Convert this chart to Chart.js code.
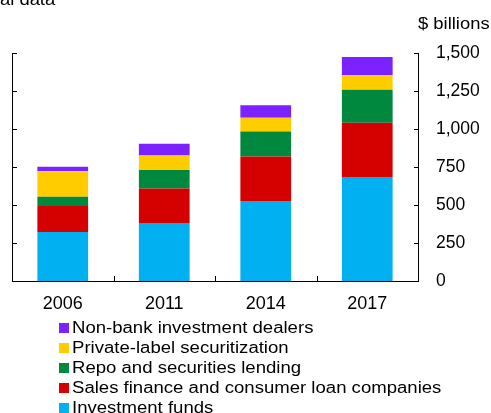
<!DOCTYPE html>
<html><head><meta charset="utf-8">
<script src="https://cdn.jsdelivr.net/npm/chart.js@4.4.1/dist/chart.umd.min.js"></script>
<style>
html,body{margin:0;padding:0;background:#fff;overflow:hidden}
#wrap{position:relative;width:491px;height:413px;overflow:hidden}
#c{position:absolute;left:0;top:0}
.t{position:absolute;font-family:"Liberation Sans",Arial,sans-serif;font-size:16px;line-height:20px;color:#000;white-space:nowrap;transform:scaleX(1.15);transform-origin:0 0}
#legend{position:absolute;left:59px;top:318px}
.li{position:relative;height:20px;line-height:20px;font-family:"Liberation Sans",Arial,sans-serif;font-size:16px;color:#000;white-space:nowrap}
.li span.tx{position:absolute;left:13px;top:0;display:block;transform:scaleX(1.16);transform-origin:0 0}
.sw{position:absolute;left:0;top:5px;width:10px;height:10px}
</style>
</head><body>
<div id="wrap">
<canvas id="c" width="491" height="413"></canvas>
<div class="t" style="left:-43px;top:-10.5px">Annual data</div>
<div class="t" style="left:418px;top:14px">$ billions</div>
<div id="legend"></div>
</div>
<script>
const categories = ['2006', '2011', '2014', '2017'];
const investmentFunds = [323, 382, 527, 685];
const salesFinance = [171, 226, 292, 356];
const repoLending = [61, 123, 165, 217];
const privateLabel = [167, 95, 90, 97];
const nonBankDealers = [30, 77, 83, 119];
const yTicks = [0, 250, 500, 750, 1000, 1250, 1500];

const seriesNames = ['Investment funds', 'Sales finance and consumer loan companies', 'Repo and securities lending', 'Private-label securitization', 'Non-bank investment dealers'];
const seriesValues = [investmentFunds, salesFinance, repoLending, privateLabel, nonBankDealers];
const seriesColors = ['#00B0F0', '#D50000', '#00893E', '#FFCC00', '#7B22FF'];

const datasets = seriesNames.map((n, i) => ({
  label: n, data: seriesValues[i], backgroundColor: seriesColors[i],
  borderWidth: 0, barPercentage: 0.5, categoryPercentage: 1.0
}));

const tickPlugin = {
  id: 'inTicks',
  afterDatasetsDraw(chart) {
    const {ctx, chartArea: a, scales} = chart;
    ctx.save();
    ctx.strokeStyle = '#000';
    ctx.lineWidth = 1;
    ctx.beginPath();
    yTicks.forEach(v => {
      const p = Math.round(scales.y.getPixelForValue(v)) + 0.5;
      ctx.moveTo(a.left, p); ctx.lineTo(a.left + 5, p);
      ctx.moveTo(a.right, p); ctx.lineTo(a.right - 4, p);
    });
    for (let i = 1; i < categories.length; i++) {
      const x = Math.round((scales.x.getPixelForValue(i - 1) + scales.x.getPixelForValue(i)) / 2) + 0.5;
      ctx.moveTo(x, a.bottom); ctx.lineTo(x, a.bottom - 5);
    }
    ctx.stroke();
    ctx.restore();
  }
};

const fam = '"Liberation Sans", Arial, sans-serif';

new Chart(document.getElementById('c'), {
  type: 'bar',
  data: {labels: categories, datasets},
  options: {
    responsive: false, animation: false,
    layout: {padding: {top: 53, left: 12, right: 0, bottom: 92}},
    plugins: {legend: {display: false}, tooltip: {enabled: false}},
    scales: {
      x: {
        stacked: true,
        grid: {display: false, drawTicks: false},
        border: {display: true, color: '#000', width: 1},
        ticks: {font: {family: fam, size: 18}, color: '#000', padding: 12, maxRotation: 0},
        afterFit(s) { s.height = 40; }
      },
      y: {
        position: 'right', stacked: true, min: 0, max: 1500,
        afterBuildTicks(s) { s.ticks = yTicks.map(v => ({value: v})); },
        grid: {display: false, drawTicks: false},
        border: {display: true, color: '#000', width: 1},
        ticks: {font: {family: fam, size: 17.5}, color: '#000', padding: 18, callback: v => v.toLocaleString('en-US')},
        afterFit(s) { s.width = 73; }
      },
      yL: {
        position: 'left', min: 0, max: 1500,
        grid: {display: false, drawTicks: false},
        border: {display: true, color: '#000', width: 1},
        ticks: {display: false},
        afterFit(s) { s.width = 0; }
      }
    }
  },
  plugins: [tickPlugin]
});

const leg = document.getElementById('legend');
for (let i = seriesNames.length - 1; i >= 0; i--) {
  const d = document.createElement('div');
  d.className = 'li';
  const sw = document.createElement('span');
  sw.className = 'sw';
  sw.style.background = seriesColors[i];
  d.appendChild(sw);
  const tx = document.createElement('span');
  tx.className = 'tx';
  tx.textContent = seriesNames[i];
  d.appendChild(tx);
  leg.appendChild(d);
}
</script>
</body></html>
